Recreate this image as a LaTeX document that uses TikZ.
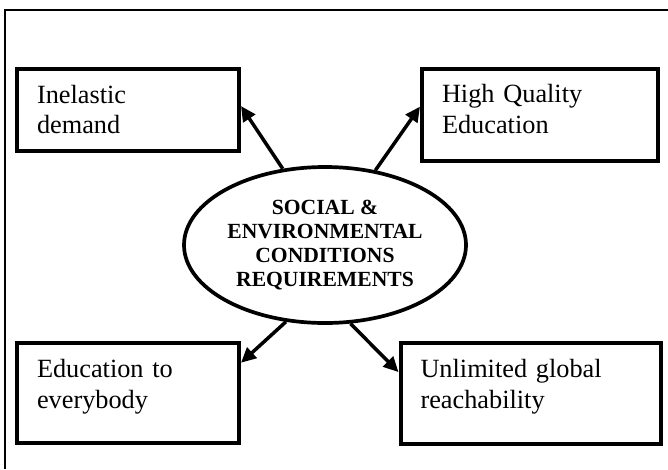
\documentclass[tikz,border=0pt]{standalone}
\usepackage{fontspec}
\setmainfont{Liberation Serif}
\usetikzlibrary{shapes.geometric,arrows.meta}

\begin{document}
\begin{tikzpicture}[x=1pt, y=-1pt,
        reqbox/.style={draw=black, line width=4pt, align=left, inner xsep=20pt, font=\fontsize{26.3}{30.5}\selectfont},
        reqarrow/.style={draw=black, line width=3.5pt, -{Triangle[length=15pt,width=14pt]}}]
        \path[use as bounding box, fill=white] (0,0) rectangle (668,469);
        \draw[line width=2.2pt] (668,10) -| (5.3,469);
        \node[ellipse, draw=black, line width=3.7pt, minimum width=282pt, minimum height=156pt, inner sep=0pt, align=center, font=\bfseries\fontsize{21.6}{24}\selectfont] (cond) at (325,245) {SOCIAL \&\\ENVIRONMENTAL\\CONDITIONS\\REQUIREMENTS};
        \node[reqbox, text width=182pt, minimum height=82pt, text depth=32pt] (inelastic) at (128,110) {Inelastic\\demand};
        \node[reqbox, text width=196pt, minimum height=92pt, text depth=43pt] (quality) at (540,115) {High Quality\\Education};
        \node[reqbox, text width=182pt, minimum height=100pt, text depth=49pt] (everybody) at (128,393) {Education to\\everybody};
        \node[reqbox, text width=220pt, minimum height=101pt, text depth=49pt] (reach) at (530.5,393) {Unlimited global\\reachability};
        \draw[reqarrow] (cond.119) -- (inelastic.2);
        \draw[reqarrow] (cond.56) -- (quality.176);
        \draw[reqarrow] (cond.243) -- (everybody.15);
        \draw[reqarrow] (cond.288) -- (reach.171);
    \end{tikzpicture}
\end{document}
